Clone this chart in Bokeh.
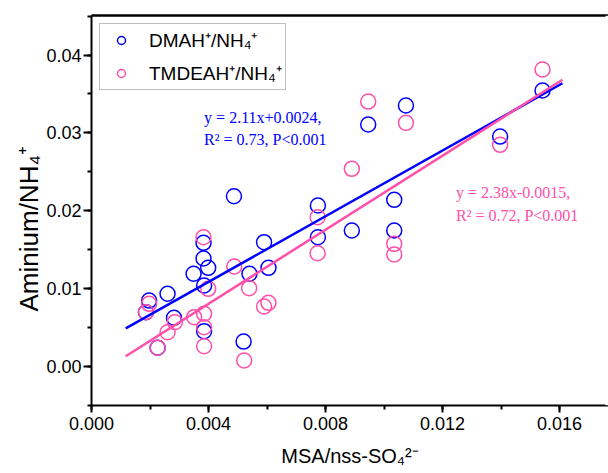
from bokeh.plotting import figure
from bokeh.models import (Range1d, SingleIntervalTicker, NumeralTickFormatter, LinearAxis,
                          FixedTicker, Legend, LegendItem, Label, Title, Span)
from bokeh.embed import file_html
from bokeh.resources import INLINE

# ---- data ----
dmah_x = [0.00186, 0.00197, 0.00226, 0.00260, 0.00282, 0.00349, 0.00383, 0.00383, 0.00385,
          0.00385, 0.00399, 0.00487, 0.00520, 0.00540, 0.00590, 0.00605, 0.00774, 0.00774,
          0.00890, 0.00946, 0.01035, 0.01035, 0.01075, 0.01397, 0.01542]
dmah_y = [0.00694, 0.00844, 0.00237, 0.00931, 0.00622, 0.01188, 0.01586, 0.01384, 0.01037,
          0.00450, 0.01265, 0.02185, 0.00317, 0.01188, 0.01594, 0.01265, 0.02066, 0.01658,
          0.01744, 0.03107, 0.02139, 0.01744, 0.03351, 0.02952, 0.03544]

tmdeah_x = [0.00186, 0.00197, 0.00226, 0.00260, 0.00285, 0.00351, 0.00383, 0.00385, 0.00385,
            0.00385, 0.00399, 0.00488, 0.00522, 0.00539, 0.00590, 0.00605, 0.00773, 0.00773,
            0.00890, 0.00946, 0.01035, 0.01035, 0.01075, 0.01397, 0.01542]
tmdeah_y = [0.00694, 0.00802, 0.00237, 0.00437, 0.00566, 0.00630, 0.01658, 0.00674, 0.00501,
            0.00257, 0.00995, 0.01282, 0.00073, 0.01003, 0.00767, 0.00815, 0.01915, 0.01452,
            0.02537, 0.03402, 0.01573, 0.01436, 0.03128, 0.02846, 0.03814]

series_labels = ["DMAH\u207a/NH\u2084\u207a", "TMDEAH\u207a/NH\u2084\u207a"]
fit_slopes = [2.11, 2.38]
fit_intercepts = [0.0024, -0.0015]
fit_x = [0.00117, 0.0161]
eq_line1 = ["y = 2.11x+0.0024,", "y = 2.38x-0.0015,"]
eq_line2 = ["R\u00b2 = 0.73, P<0.001", "R\u00b2 = 0.72, P<0.001"]
x_title = "MSA/nss-SO\u2084\u00b2\u207b"
y_title = "Aminium/NH\u2084\u207a"

BLUE = "#0000ff"
PINK = "#ff4fa8"
SANS = "Liberation Sans"
SERIF = "Liberation Serif"

X_END = 0.017675
p = figure(width=608, height=473, output_backend="svg", toolbar_location=None,
           x_range=Range1d(0, X_END), y_range=Range1d(-0.00505, 0.04508),
           min_border_left=91, min_border_right=0, min_border_top=15, min_border_bottom=68)
p.outline_line_color = None
p.grid.visible = False
p.background_fill_color = "white"
p.border_fill_color = "white"

for ax in (p.xaxis[0], p.yaxis[0]):
    ax.axis_line_width = 2
    ax.axis_line_color = "black"
    ax.major_tick_line_width = 2
    ax.major_tick_line_color = "black"
    ax.minor_tick_line_width = 2
    ax.minor_tick_line_color = "black"
    ax.major_tick_in = 0
    ax.minor_tick_in = 0
    ax.minor_tick_out = 4
    ax.major_label_text_font = SANS
    ax.major_label_text_font_size = "18px"
    ax.major_label_text_color = "black"
    ax.axis_label_text_font = SANS
    ax.axis_label_text_font_style = "normal"
    ax.axis_label_text_color = "black"

p.xaxis[0].ticker = SingleIntervalTicker(interval=0.004, num_minor_ticks=2)
p.xaxis[0].formatter = NumeralTickFormatter(format="0.000")
p.xaxis[0].major_tick_out = 7
p.xaxis[0].major_label_standoff = 4
p.xaxis[0].axis_label = x_title
p.xaxis[0].axis_label_text_font_size = "20px"
p.xaxis[0].axis_label_standoff = 12

p.yaxis[0].ticker = SingleIntervalTicker(interval=0.01, num_minor_ticks=2)
p.yaxis[0].formatter = NumeralTickFormatter(format="0.00")
p.yaxis[0].major_tick_out = 8
p.yaxis[0].major_label_standoff = 2

# y title: vertical title in the left panel, placed a little below centre as in the reference
p.add_layout(Title(text=y_title, align="left", offset=94, standoff=0,
                   text_font=SANS, text_font_size="26px", text_font_style="normal",
                   text_color="black"), "left")

top_axis = LinearAxis(ticker=FixedTicker(ticks=[]), major_tick_out=0, minor_tick_out=0,
                      major_label_standoff=0, axis_line_width=2.5, axis_line_color="black")
p.add_layout(top_axis, "above")

r1 = p.scatter(dmah_x, dmah_y, marker="circle", size=15, fill_color=None,
               line_color=BLUE, line_width=1.5)
r2 = p.scatter(tmdeah_x, tmdeah_y, marker="circle", size=15, fill_color=None,
               line_color=PINK, line_width=1.5)

colors = [BLUE, PINK]
for s, b, c in zip(fit_slopes, fit_intercepts, colors):
    p.line(fit_x, [s * xx + b for xx in fit_x], line_color=c, line_width=2.5)

# equation labels
eq_pos = [(0.00385, 0.03094, 0.02799), (0.01246, 0.02121, 0.01834)]
for (lx, ly1, ly2), t1, t2, c in zip(eq_pos, eq_line1, eq_line2, colors):
    for ly, t in ((ly1, t1), (ly2, t2)):
        p.add_layout(Label(x=lx, y=ly, text=t, text_font=SERIF, text_font_size="16px",
                           text_color=c))

legend = Legend(items=[LegendItem(label=series_labels[0], renderers=[r1]),
                       LegendItem(label=series_labels[1], renderers=[r2])],
                location="top_left", margin=8, padding=3, spacing=7,
                glyph_width=36, glyph_height=20, label_height=20, label_standoff=10,
                label_text_font=SANS, label_text_font_size="19px", label_text_color="black",
                border_line_color="#808080", border_line_width=1.5,
                background_fill_color="white", background_fill_alpha=1.0)
p.add_layout(legend)

# the plot frame continues past the right edge of the picture: no right-hand border
edge_mask = Span(location=X_END, dimension="height", line_color="white", line_width=6,
                 level="overlay")
p.add_layout(edge_mask)

open("out.html", "w").write(file_html(p, INLINE))
